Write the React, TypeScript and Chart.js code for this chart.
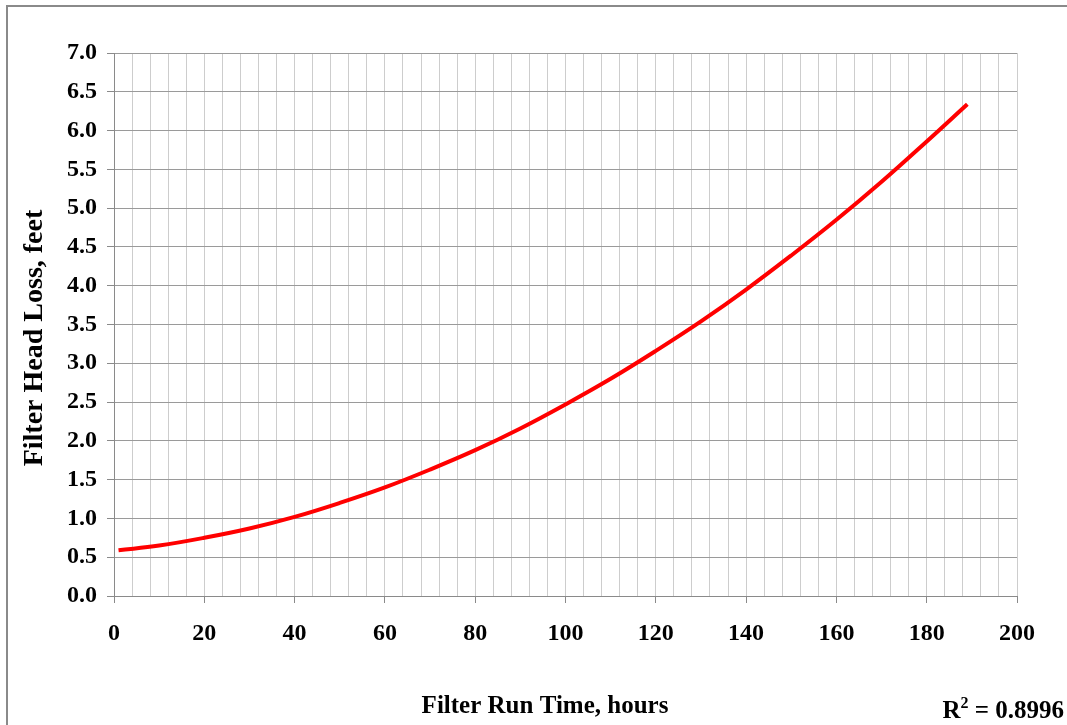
import React, { useEffect, useRef } from "react";
import { Chart, registerables } from "chart.js";

Chart.register(...registerables);

const runTimeHours = [1, 10, 20, 30, 40, 50, 60, 70, 80, 90, 100, 110, 120, 130, 140, 150, 160, 170, 180, 189];
const headLossFeet = [0.59, 0.65, 0.75, 0.87, 1.02, 1.2, 1.4, 1.63, 1.88, 2.16, 2.47, 2.8, 3.16, 3.54, 3.95, 4.39, 4.85, 5.34, 5.86, 6.34];
const xTitle = "Filter Run Time, hours";
const yTitle = "Filter Head Loss, feet";
const rSquaredLabel = "0.8996";

const FONT = "'Liberation Serif', 'Times New Roman', serif";

const decorPlugin = {
  id: "decor",
  afterDraw(chart: any) {
    const ctx = chart.ctx;
    ctx.save();
    ctx.strokeStyle = "#8a8a8a";
    ctx.lineWidth = 2;
    ctx.strokeRect(7, 6, 1200, 900);
    ctx.fillStyle = "#000";

    // axis titles
    ctx.textAlign = "center";
    ctx.textBaseline = "middle";
    ctx.font = `bold 25px ${FONT}`;
    ctx.fillText(xTitle, 545, 707);
    ctx.save();
    ctx.translate(35, 338);
    ctx.rotate(-Math.PI / 2);
    ctx.font = `bold 28px ${FONT}`;
    ctx.fillText(yTitle, 0, 0);
    ctx.restore();

    // R squared
    ctx.textBaseline = "alphabetic";
    ctx.font = `bold 25px ${FONT}`;
    ctx.textAlign = "right";
    const rightX = 1064;
    const baseY = 718;
    const rest = " = " + rSquaredLabel;
    ctx.fillText(rest, rightX, baseY);
    const restW = ctx.measureText(rest).width;
    ctx.font = `bold 16px ${FONT}`;
    const supW = ctx.measureText("2").width;
    ctx.fillText("2", rightX - restW, baseY - 10);
    ctx.font = `bold 25px ${FONT}`;
    ctx.fillText("R", rightX - restW - supW, baseY);
    ctx.restore();
  },
};

export default function App() {
  const ref = useRef<HTMLCanvasElement | null>(null);
  useEffect(() => {
    if (!ref.current) return;
    const chart = new Chart(ref.current, {
      type: "line",
      data: {
        datasets: [
          {
            data: runTimeHours.map((x, i) => ({ x, y: headLossFeet[i] })),
            borderColor: "#ff0000",
            borderWidth: 4,
            pointRadius: 0,
            tension: 0.4,
            fill: false,
          },
        ],
      },
      options: {
        animation: false,
        responsive: false,
        layout: { padding: { left: 0, top: 53, right: 50, bottom: 0 } },
        plugins: { legend: { display: false }, tooltip: { enabled: false } },
        scales: {
          x: {
            type: "linear",
            min: 0,
            max: 200,
            afterFit(scale: any) {
              scale.height = 129;
            },
            ticks: {
              stepSize: 4,
              autoSkip: false,
              maxRotation: 0,
              padding: 16,
              color: "#000",
              font: { family: FONT, size: 24, weight: "bold" },
              callback: (v: any) => (Number(v) % 20 === 0 ? String(v) : ""),
            },
            grid: {
              color: "#cdcdcd",
              lineWidth: 1,
              tickLength: 7,
              tickColor: (c: any) => (c.tick && c.tick.value % 20 === 0 ? "#8a8a8a" : "rgba(0,0,0,0)"),
            },
            border: { color: "#8a8a8a", width: 1 },
            title: { display: false },
          },
          y: {
            type: "linear",
            min: 0,
            max: 7,
            afterFit(scale: any) {
              scale.width = 114;
            },
            ticks: {
              stepSize: 0.5,
              padding: 10,
              color: "#000",
              font: { family: FONT, size: 24, weight: "bold" },
              callback: (v: any) => Number(v).toFixed(1),
            },
            grid: {
              color: "#9a9a9a",
              lineWidth: 1,
              tickLength: 7,
              tickColor: "#8a8a8a",
            },
            border: { color: "#8a8a8a", width: 1 },
            title: { display: false },
          },
        },
      },
      plugins: [decorPlugin],
    } as any);
    return () => chart.destroy();
  }, []);
  return (
    <div style={{ position: "absolute", left: 0, top: 0, width: 1067, height: 725, background: "#fff" }}>
      <canvas ref={ref} width={1067} height={725} style={{ display: "block" }} />
    </div>
  );
}
